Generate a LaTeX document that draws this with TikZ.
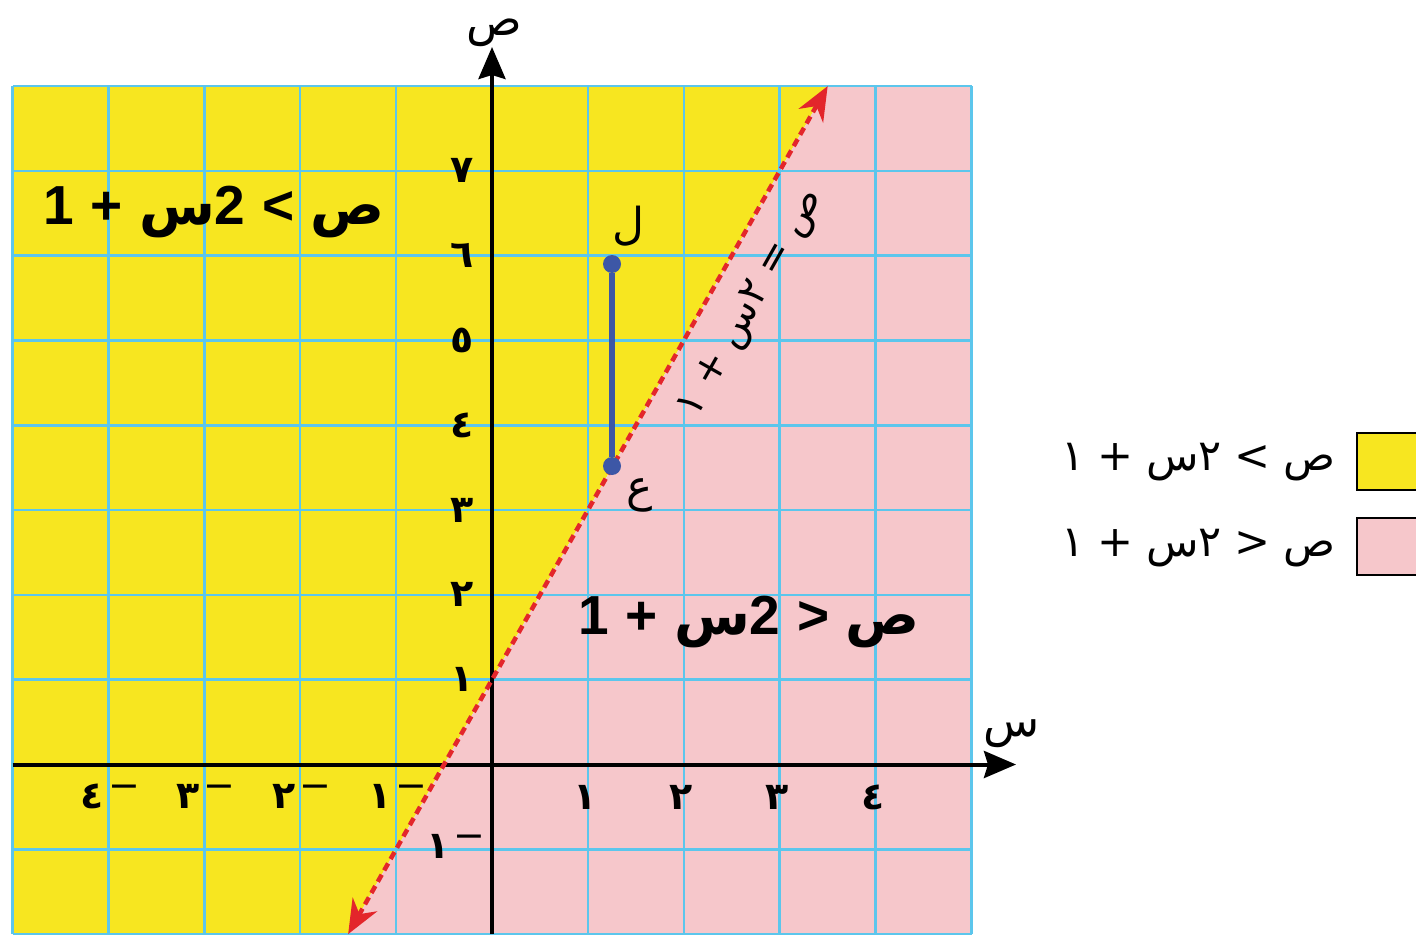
\documentclass[tikz,border=0pt]{standalone}
\usepackage{fontspec}
\usetikzlibrary{arrows.meta}
\TeXXeTstate=1
\newfontfamily\ar[Script=Arabic]{DejaVu Sans}
\newfontfamily\arbf[Script=Arabic]{DejaVu Sans Bold}
\newfontfamily\lsb{Liberation Sans Bold}
\newfontfamily\dv{DejaVu Sans}
\definecolor{yel}{HTML}{F7E620}
\definecolor{pnk}{HTML}{F6C7CB}
\definecolor{gridc}{HTML}{5CC6EC}
\definecolor{redl}{HTML}{E3262B}
\definecolor{bluel}{HTML}{3D57A6}
\begin{document}
\begin{tikzpicture}[x=1pt,y=-1pt,
  gridline/.style={gridc, line width=2.5pt},
  axis/.style={black, line width=4pt, -{Stealth[length=32pt,width=27pt,inset=4pt]}},
  bigt/.style={inner sep=0pt, font=\fontsize{55}{62}\selectfont},
  legt/.style={inner sep=0pt, font=\fontsize{43}{48}\selectfont},
  tick/.style={inner sep=0pt, font=\fontsize{38}{42}\selectfont},
  axlab/.style={inner sep=0pt, font=\fontsize{46}{52}\selectfont},
  ptlab/.style={inner sep=0pt, font=\fontsize{44}{50}\selectfont},
  dot/.style={circle, fill=bluel, inner sep=0pt, minimum size=18pt},
  legbox/.style={draw=black, line width=2pt, inner sep=0pt, minimum width=80pt, minimum height=57pt, anchor=west},
  redarrows/.style={{Stealth[length=34pt,width=28pt]}-{Stealth[length=34pt,width=28pt]}}
]
\useasboundingbox (0,0) rectangle (1416,936);
% regions
\fill[yel] (12.5,934.1) -- (348.15,934.1) -- (827.65,86.1) -- (12.5,86.1) -- cycle;
\fill[pnk] (348.15,934.1) -- (971.5,934.1) -- (971.5,86.1) -- (827.65,86.1) -- cycle;
% grid
\foreach \i in {-5,...,5} \draw[gridline] ({492+95.9*\i},86.1) -- ({492+95.9*\i},934.1);
\foreach \j in {-2,...,8} \draw[gridline] (12.5,{764.5-84.8*\j}) -- (971.5,{764.5-84.8*\j});
% axes
\coordinate (yb) at (492,934.1);
\coordinate (yt) at (492,47);
\coordinate (xl) at (12.5,764.5);
\coordinate (xr) at (1016,764.5);
\draw[axis] (yb) -- (yt);
\draw[axis] (xl) -- (xr);
\node[axlab] (ylab) at (494,33) {\ar ص};
\node[axlab] (xlab) at (1012,734) {\ar س};
% y tick labels
\foreach \j/\d in {1/١,2/٢,3/٣,4/٤,5/٥,6/٦,7/٧}
  \node[tick] (yt\j) at (462,{764.5-84.8*\j}) {\arbf \d};
\node[tick] (ytm1) at (456,846) {\arbf ١\kern4pt\raisebox{10pt}{\dv −}};
% x tick labels
\foreach \i/\d in {1/١,2/٢,3/٣,4/٤}
  \node[tick] (xt\i) at ({489+95.9*\i},797) {\arbf \d};
\foreach \i/\d in {1/١,2/٢,3/٣,4/٤}
  \node[tick] (xtm\i) at ({494-95.9*\i},796) {\arbf \d\kern4pt\raisebox{10pt}{\dv −}};
% boundary line
\coordinate (r1) at (348.15,934.1);
\coordinate (r2) at (827.65,86.1);
\draw[redl, line width=4.5pt, dash pattern=on 8pt off 5pt, redarrows] (r1) -- (r2);
\node[inner sep=0pt, rotate=60.5, font=\fontsize{40}{44}\selectfont] (eq) at (753,304)
  {\beginR{\ar ص} {\dv =} {\ar ٢س} {\dv +} {\ar ١}\endR};
% segment
\node[dot] (L) at (612,264) {};
\node[dot] (E) at (612,466) {};
\draw[bluel, line width=6.5pt] (L) -- (E);
\node[ptlab] (Llab) at (628,226) {\ar ل};
\node[ptlab] (Elab) at (640,495) {\ar ع};
% big inequalities
\node[bigt] (t1) at (214,212) {\beginR{\arbf ص} {\lsb <} {\lsb 2}{\arbf س} {\lsb +} {\lsb 1}\endR};
\node[bigt] (t2) at (749,622) {\beginR{\arbf ص} {\lsb >} {\lsb 2}{\arbf س} {\lsb +} {\lsb 1}\endR};
% legend
\node[legbox, fill=yel] (ly) at (1356,461.5) {};
\node[legbox, fill=pnk] (lp) at (1356,546.5) {};
\node[legt, anchor=east] (lt1) at (1336,462) {\beginR{\ar ص} {\dv <} {\ar ٢س} {\dv +} {\ar ١}\endR};
\node[legt, anchor=east] (lt2) at (1336,548) {\beginR{\ar ص} {\dv >} {\ar ٢س} {\dv +} {\ar ١}\endR};
\end{tikzpicture}
\end{document}
